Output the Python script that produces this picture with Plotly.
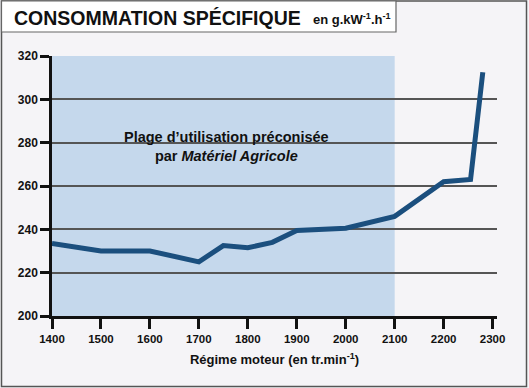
import plotly.graph_objects as go

regime = [1400, 1500, 1600, 1700, 1750, 1800, 1850, 1900, 2000, 2100, 2200, 2255, 2280]
conso = [233.5, 230, 230, 225, 232.5, 231.5, 234, 239.5, 240.5, 246, 262, 263, 312.5]
x_ticks = [1400, 1500, 1600, 1700, 1800, 1900, 2000, 2100, 2200, 2300]
y_ticks = [200, 220, 240, 260, 280, 300, 320]
zone_start, zone_end = 1400, 2100

W, H = 529, 388
L, R, T, B = 52, 32, 56, 72
pw, ph = W - L - R, H - T - B

def px(x):
    return (x - L) / pw

def py(y):
    return (H - B - y) / ph

FONT = "Liberation Sans, Arial, sans-serif"
NARROW = "Liberation Sans Narrow, Liberation Sans, Arial, sans-serif"

fig = go.Figure()
fig.add_trace(go.Scatter(
    x=regime, y=conso, mode="lines",
    line=dict(color="#1b4f7e", width=5),
    hoverinfo="skip", showlegend=False,
))

fig.update_layout(
    width=W, height=H,
    margin=dict(l=L, r=R, t=T, b=B),
    paper_bgcolor="#f5f4f7",
    plot_bgcolor="#f5f4f7",
    font=dict(family=FONT, color="#111"),
    xaxis=dict(
        range=[1400, 2309], tickvals=x_ticks, ticktext=[str(v) for v in x_ticks],
        showgrid=False, zeroline=False,
        showline=True, linecolor="#111", linewidth=2.5,
        ticks="outside", ticklen=10, tickwidth=2.5, tickcolor="#111",
        tickfont=dict(family=NARROW, size=11.5, color="#111", weight="bold"),
        title=dict(text="Régime moteur (en tr.min<sup>-1</sup>)",
                   font=dict(family=FONT, size=13, color="#111", weight="bold"),
                   standoff=12),
    ),
    yaxis=dict(
        range=[200, 320], tickvals=y_ticks,
        showgrid=True, gridcolor="#555", gridwidth=1.5, zeroline=False,
        showline=True, linecolor="#111", linewidth=2.5,
        ticks="outside", ticklen=9, tickwidth=2.5, tickcolor="#111",
        tickfont=dict(family=FONT, size=12, color="#111", weight="bold"),
    ),
    shapes=[
        dict(type="rect", xref="x", yref="y", x0=zone_start, x1=zone_end, y0=200, y1=320,
             fillcolor="#c5d8ec", line=dict(width=0), layer="below"),
        dict(type="rect", xref="paper", yref="paper", x0=px(1.5), x1=px(526.5), y0=py(386.5), y1=py(1),
             fillcolor="rgba(0,0,0,0)", line=dict(color="#555", width=1.5), layer="above"),
        dict(type="rect", xref="paper", yref="paper", x0=px(1.5), x1=px(396), y0=py(32), y1=py(1),
             fillcolor="white", line=dict(color="#666", width=1.2), layer="above"),
    ],
    annotations=[
        dict(xref="paper", yref="paper", x=px(12), y=py(18), xanchor="left", yanchor="middle",
             text="<b>CONSOMMATION SPÉCIFIQUE</b>", showarrow=False,
             font=dict(family=FONT, size=19.5, color="#111")),
        dict(xref="paper", yref="paper", x=px(311), y=py(19), xanchor="left", yanchor="middle",
             text="<b>en g.kW<sup>-1</sup>.h<sup>-1</sup></b>", showarrow=False,
             font=dict(family=FONT, size=13, color="#111")),
        dict(xref="paper", yref="paper", x=px(226), y=py(146), xanchor="center", yanchor="middle",
             text="<b>Plage d’utilisation préconisée<br>par <i>Matériel Agricole</i></b>",
             showarrow=False, align="center",
             font=dict(family=FONT, size=14.5, color="#111")),
    ],
)

fig.write_html("out.html", config={"displayModeBar": False},
               post_script="document.body.style.margin='0';")
